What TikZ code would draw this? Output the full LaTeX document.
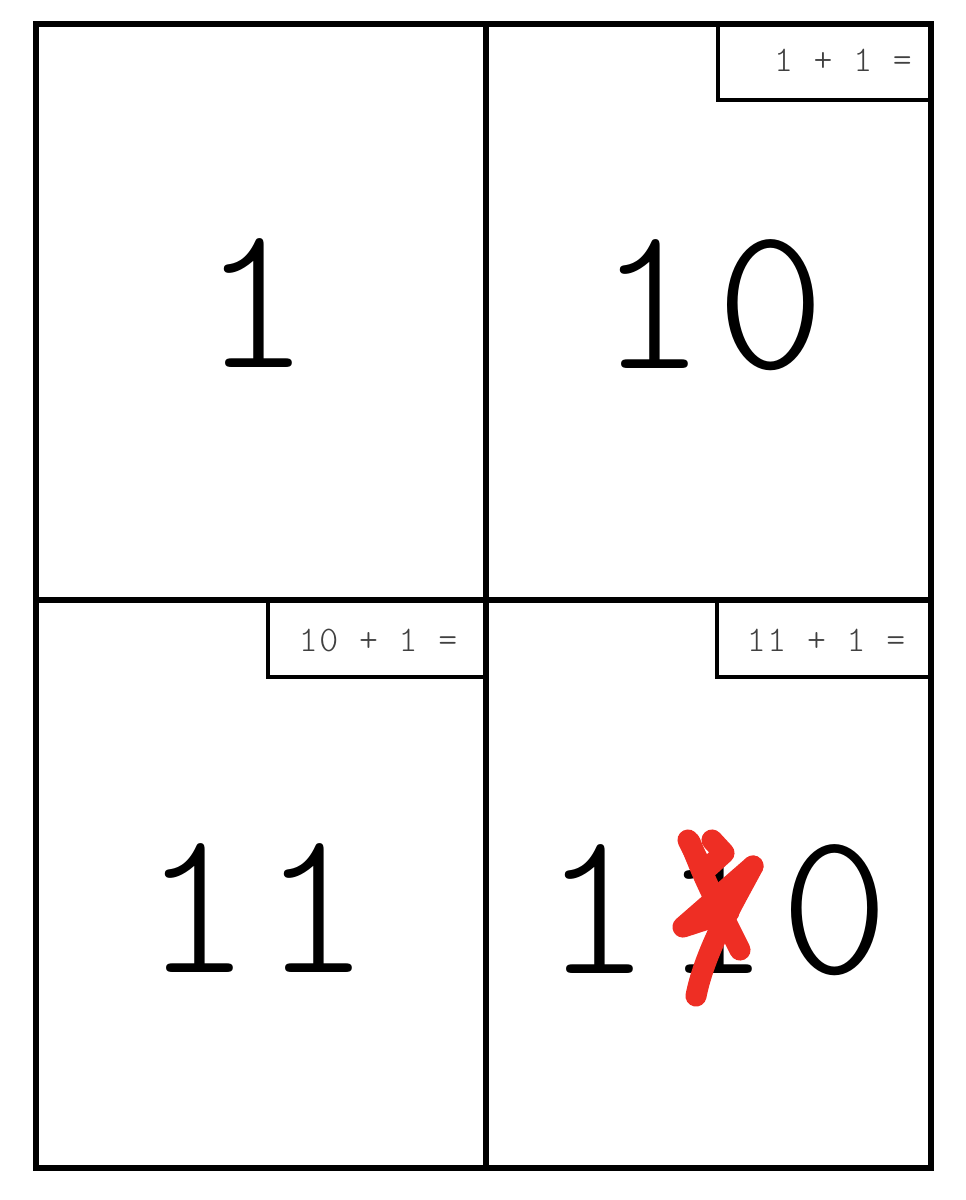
\documentclass[tikz,border=0pt]{standalone}
\usepackage{fontspec}
\setmonofont{Latin Modern Mono}[LetterSpace=5]
\newfontfamily\lightmono{Latin Modern Mono Light}[LetterSpace=5]
\definecolor{scribble}{RGB}{238,46,36}
\begin{document}
\begin{tikzpicture}[x=0.02cm,y=-0.02cm,
  frame/.style={line width=3.8pt},
  sumbox/.style={line width=2.8pt},
  sumtext/.style={text=black!75,font=\lightmono\fontsize{20.5}{22}\selectfont,inner sep=0pt},
  digits/.style={font=\lightmono\fontsize{118}{120}\selectfont,inner sep=0pt},
  cross/.style={draw=scribble,line width=12pt,line cap=round,line join=round}]
\useasboundingbox (0,0) rectangle (965,1200);
\draw[frame] (36,24) rectangle (931,1168);
\draw[frame] (486,24) -- (486,1168);
\draw[frame] (36,600) -- (931,600);
\draw[sumbox] (718,24) rectangle (931,100);
\draw[sumbox] (268,600) rectangle (486,677);
\draw[sumbox] (717,600) rectangle (931,677);
\node[sumtext] (sumA) at (843,60) {1 + 1 =};
\node[sumtext] (sumB) at (378,640) {10 + 1 =};
\node[sumtext] (sumC) at (826,640) {11 + 1 =};
\node[digits] (one) at (256,303) {1};
\node[digits] (two) at (712,305) {10};
\node[digits] (three) at (257,908) {11};
\node[digits] (four) at (716,910) {110};
\draw[cross] (690,842) .. controls (705,880) .. (740,950);
\draw[cross] (688,840) -- (702,868);
\draw[cross] (712,840) -- (724,853) -- (703,872);
\draw[cross] (753,866) .. controls (735,900) and (705,950) .. (696,996);
\draw[cross] (753,866) -- (683,927) -- (729,912);
\end{tikzpicture}
\end{document}
